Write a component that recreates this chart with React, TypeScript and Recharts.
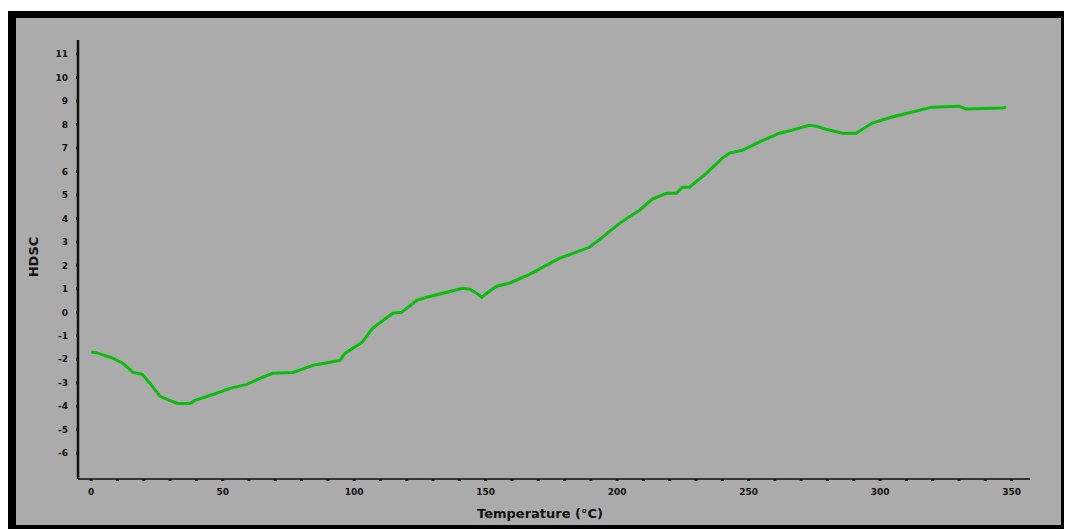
import React from 'react';
import { LineChart, Line, XAxis, YAxis } from 'recharts';

// DSC trace
const temps = [
  0, 2, 8.4, 12, 16, 19.4, 22.4, 26.2, 28.9, 32.7, 37.6, 39.5, 46.3, 52.8, 59.2, 64.2, 69, 76.7, 84.3, 90.8,
  94.6, 96.5, 103, 107, 114.7, 118, 123.8, 127.6, 133.7, 141.3, 144, 146.6, 148.5, 150.4, 154.2, 159, 166.7,
  178, 189.5, 194.5, 201, 208.5, 213.4, 218.8, 222.6, 224.8, 227.5, 234, 240, 242.7, 247.6, 254, 261.7, 266.6,
  273, 275.7, 279.5, 285.6, 290.9, 297, 304.6, 312.2, 319.8, 330, 332.7, 346.4, 347.9,
];
const hdsc = [
  -1.69, -1.72, -1.96, -2.17, -2.56, -2.64, -3.03, -3.58, -3.71, -3.88, -3.88, -3.75, -3.5, -3.24, -3.07, -2.81,
  -2.6, -2.56, -2.26, -2.13, -2.05, -1.75, -1.28, -0.68, -0.04, 0, 0.51, 0.64, 0.81, 1.02, 0.98, 0.81, 0.64,
  0.81, 1.11, 1.24, 1.62, 2.3, 2.77, 3.2, 3.8, 4.35, 4.82, 5.07, 5.07, 5.33, 5.33, 5.93, 6.57, 6.78, 6.9, 7.25,
  7.63, 7.76, 7.97, 7.93, 7.8, 7.63, 7.63, 8.06, 8.32, 8.53, 8.74, 8.78, 8.66, 8.7, 8.74,
];
const xTicks = [0, 10, 20, 30, 40, 50, 60, 70, 80, 90, 100, 110, 120, 130, 140, 150, 160, 170, 180, 190, 200,
  210, 220, 230, 240, 250, 260, 270, 280, 290, 300, 310, 320, 330, 340, 350];
const yTicks = [-6, -5, -4, -3, -2, -1, 0, 1, 2, 3, 4, 5, 6, 7, 8, 9, 10, 11];

const data = temps.map((t, i) => ({ t, v: hdsc[i] }));

const tickFont = { fill: '#111', fontSize: 9, fontWeight: 700, fontFamily: 'DejaVu Sans' };

export default function App() {
  return (
    <div style={{ position: 'absolute', left: 0, top: 0, width: 1066, height: 529, background: '#fff', overflow: 'hidden' }}>
      <div
        style={{
          position: 'absolute', left: 8, top: 11, width: 1056, height: 518, boxSizing: 'border-box',
          background: '#ababab', borderStyle: 'solid', borderColor: '#000',
          borderWidth: '7px 3px 4px 8px',
        }}
      />
      <div style={{ position: 'absolute', left: 0, top: 0 }}>
        <LineChart width={1066} height={529} data={data} margin={{ top: 40, right: 36, left: 48, bottom: 20 }}>
          <XAxis
            dataKey="t"
            type="number"
            domain={[-5, 357]}
            allowDataOverflow
            ticks={xTicks}
            interval={0}
            tickFormatter={(v: number) => (v % 50 === 0 ? String(v) : '')}
            axisLine={{ stroke: '#333', strokeWidth: 2 }}
            tickLine={{ stroke: '#222', strokeWidth: 3 }}
            tickSize={2}
            tickMargin={8}
            tick={tickFont}
            height={30}
          />
          <YAxis
            type="number"
            domain={[-7.1, 11.6]}
            allowDataOverflow
            ticks={yTicks}
            interval={0}
            axisLine={{ stroke: '#111', strokeWidth: 2.5 }}
            tickLine={{ stroke: '#222', strokeWidth: 3 }}
            tickSize={2}
            tickMargin={8}
            tick={tickFont}
            width={30}
          />
          <Line
            dataKey="v"
            type="linear"
            stroke="#0cbc0c"
            strokeWidth={3}
            dot={false}
            isAnimationActive={false}
          />
        </LineChart>
      </div>
      <div
        style={{
          position: 'absolute', left: 33, top: 257, transform: 'translate(-50%, -50%) rotate(-90deg)',
          fontFamily: 'DejaVu Sans', fontWeight: 700, fontSize: 13, color: '#111',
        }}
      >
        HDSC
      </div>
      <div
        style={{
          position: 'absolute', left: 540, top: 513, transform: 'translate(-50%, -50%)', whiteSpace: 'nowrap',
          fontFamily: 'DejaVu Sans', fontWeight: 700, fontSize: 13, color: '#111',
        }}
      >
        Temperature (°C)
      </div>
    </div>
  );
}
